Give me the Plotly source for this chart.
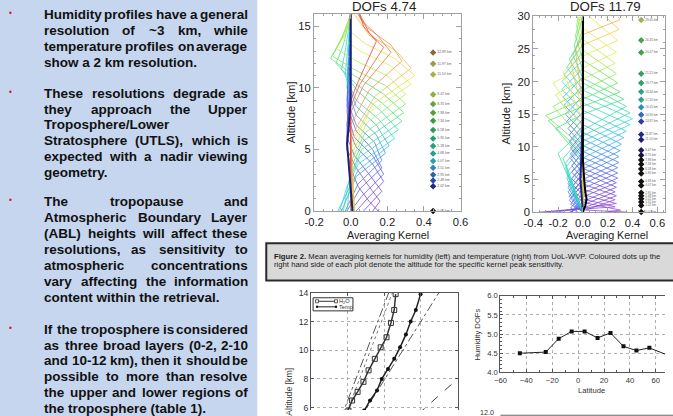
import plotly.graph_objects as go
from plotly.colors import sample_colorscale

# ======================= DATA =======================
HUM_TITLE = "DOFs 4.74"
TEMP_TITLE = "DOFs 11.79"

# humidity averaging kernels (one polyline per kernel: altitude [km], kernel value)
HUM_PEAKS = [0.0, 0.8, 1.6, 2.4, 3.0, 3.5, 4.1, 4.7, 5.3, 5.9, 6.6, 7.3, 8.0, 8.7,
             9.5, 10.3, 11.0, 11.6, 12.2, 12.9, 13.3, 13.8]
HUM_K_ALT = [
    [0, 0.8, 2, 3.5, 5, 6.5, 10, 16],
    [0, 0.8, 2, 3.5, 5, 7, 10, 16],
    [0, 1.6, 3, 4.5, 6, 8, 16],
    [0, 1, 2.4, 3.8, 5.2, 7, 9, 16],
    [0, 1.2, 3.0, 4.5, 6, 8, 16],
    [0, 1.8, 3.5, 5, 6.5, 8.5, 16],
    [0, 2.2, 4.1, 5.6, 7, 9, 16],
    [0, 2.8, 4.7, 6.2, 7.8, 10, 16],
    [0, 1.5, 3.3, 5.3, 7, 8.5, 10.5, 16],
    [0, 2, 3.8, 5.9, 7.5, 9, 11, 16],
    [0, 2.5, 4.4, 6.6, 8.2, 9.7, 11.5, 13, 16],
    [0, 3, 5, 7.3, 8.8, 10.3, 12, 13.5, 16],
    [0, 3.5, 5.7, 8.0, 9.5, 11, 12.4, 14, 16],
    [0, 4, 6.4, 8.7, 10.2, 11.5, 12.6, 14.5, 16],
    [0, 4.5, 7.2, 9.5, 11, 12.2, 13.2, 15, 16],
    [0, 5, 8, 10.3, 11.8, 13, 14, 16],
    [0, 5.5, 8.7, 11.0, 12.4, 13.6, 14.8, 16],
    [0, 6, 9.3, 11.6, 13, 14.3, 16],
    [0, 7, 9.8, 12.2, 13.5, 15, 16],
    [0, 8, 10.2, 12.9, 14.2, 15.5, 16],
    [0, 8.5, 10.3, 13.3, 14.5, 16],
    [0, 9, 10.5, 13.8, 15, 16],
]
HUM_K_VAL = [
    [0.15, 0.10, 0.04, 0.0, -0.02, -0.01, 0.0, 0.0],
    [0.12, 0.16, 0.10, 0.03, -0.02, -0.02, 0.0, 0.0],
    [0.07, 0.17, 0.10, 0.02, -0.02, -0.01, 0.0],
    [0.03, 0.09, 0.18, 0.12, 0.03, -0.02, -0.01, 0.0],
    [0.0, 0.06, 0.18, 0.12, 0.02, -0.02, 0.0],
    [-0.02, 0.05, 0.17, 0.12, 0.03, -0.02, 0.0],
    [-0.03, 0.04, 0.17, 0.13, 0.03, -0.02, 0.0],
    [-0.05, 0.03, 0.19, 0.14, 0.03, -0.02, 0.0],
    [-0.07, -0.02, 0.04, 0.21, 0.14, 0.03, -0.02, 0.0],
    [-0.06, -0.02, 0.04, 0.24, 0.15, 0.03, -0.03, 0.0],
    [-0.04, -0.01, 0.05, 0.26, 0.16, 0.04, -0.05, -0.03, 0.0],
    [-0.02, 0.0, 0.06, 0.28, 0.17, 0.03, -0.08, -0.04, 0.0],
    [0.0, 0.0, 0.07, 0.29, 0.18, 0.02, -0.11, -0.05, 0.0],
    [0.01, 0.0, 0.08, 0.30, 0.19, 0.02, -0.10, -0.03, 0.0],
    [0.02, 0.0, 0.09, 0.30, 0.20, 0.03, -0.08, -0.02, 0.0],
    [0.02, 0.0, 0.10, 0.33, 0.22, 0.05, -0.04, 0.0],
    [0.02, 0.0, 0.12, 0.35, 0.24, 0.08, -0.02, 0.01],
    [0.02, 0.0, 0.13, 0.33, 0.25, 0.10, 0.02],
    [0.01, 0.0, 0.10, 0.28, 0.22, 0.08, 0.04],
    [0.0, 0.0, 0.07, 0.22, 0.15, 0.06, 0.04],
    [0.0, 0.0, 0.05, 0.18, 0.10, 0.05],
    [0.0, 0.0, 0.04, 0.14, 0.07, 0.05],
]
HUM_CENTER_ALT = [0, 2, 4, 5.5, 7, 9, 11, 13, 16]
HUM_CENTER_VAL = [0.01, 0.0, -0.01, -0.02, -0.01, 0.0, 0.0, 0.0, 0.0]

# temperature averaging kernels
TEMP_PEAKS = [0.3, 0.8, 1.3, 1.9, 2.5, 3.1, 3.8, 4.5, 5.2, 6.0, 6.8, 7.6, 8.5, 9.4, 10.4,
              11.4, 12.4, 13.4, 14.3, 15.2, 16.2, 17.3, 18.4, 19.8, 21.2, 22.8, 24.5,
              26.3, 28.0, 29.5]
TEMP_K_ALT = [
    [0, 0.3, 1.4, 2.6, 4.2, 30],
    [0, 0.8, 2.0, 3.3, 5.0, 30],
    [0, 1.3, 2.7, 4.1, 6.0, 30],
    [0, 0.3, 1.9, 3.5, 5.1, 7.0, 30],
    [0, 0.6, 2.5, 4.3, 6.1, 8.0, 30],
    [0, 1.1, 3.1, 5.1, 7.1, 9.2, 30],
    [0, 1.6, 3.8, 6.0, 8.2, 10.4, 30],
    [0, 0.1, 2.3, 4.5, 6.7, 8.9, 11.1, 30],
    [0, 0.6, 2.9, 5.2, 7.5, 9.8, 12.1, 30],
    [0, 1.2, 3.6, 6.0, 8.4, 10.8, 13.2, 30],
    [0, 1.8, 4.3, 6.8, 9.3, 11.8, 14.3, 30],
    [0, 2.4, 5.0, 7.6, 10.2, 12.8, 15.4, 30],
    [0, 3.1, 5.8, 8.5, 11.2, 13.9, 16.6, 30],
    [0, 3.8, 6.6, 9.4, 12.2, 15.0, 17.8, 30],
    [0, 4.4, 7.4, 10.4, 13.4, 16.4, 19.4, 30],
    [0, 5.2, 8.3, 11.4, 14.5, 17.6, 20.7, 30],
    [0, 6.0, 9.2, 12.4, 15.6, 18.8, 22.0, 30],
    [0, 6.8, 10.1, 13.4, 16.7, 20.0, 23.3, 30],
    [0, 7.5, 10.9, 14.3, 17.7, 21.1, 24.5, 30],
    [0, 8.2, 11.7, 15.2, 18.7, 22.2, 25.7, 30],
    [0, 9.0, 12.6, 16.2, 19.8, 23.4, 27.0, 30],
    [0, 8, 12.8, 15.0, 17.3, 20.5, 24.0, 28, 30],
    [0, 9, 14.0, 16.2, 18.4, 21.8, 25.5, 30],
    [0, 10, 14.8, 17.3, 19.8, 23.3, 27.0, 30],
    [0, 11, 16.2, 18.7, 21.2, 24.8, 28.5, 30],
    [0, 12, 18.0, 20.4, 22.8, 26.5, 30],
    [0, 13, 19.8, 22.1, 24.5, 28.2, 30],
    [0, 14, 21.5, 23.9, 26.3, 30],
    [0, 15, 23.2, 25.6, 28.0, 30],
    [0, 16, 24.8, 27.2, 29.5, 30],
]
TEMP_K_VAL = [
    [0.18, 0.30, 0.02, -0.08, 0.0, 0.0],
    [-0.35, 0.26, 0.0, -0.08, 0.0, 0.0],
    [-0.22, 0.27, 0.0, -0.08, 0.0, 0.0],
    [0.35, 0.02, 0.26, 0.0, -0.09, 0.0, 0.0],
    [-0.30, 0.0, 0.27, 0.0, -0.09, 0.0, 0.0],
    [-0.10, 0.0, 0.26, 0.0, -0.09, 0.0, 0.0],
    [-0.09, 0.0, 0.27, 0.0, -0.10, 0.0, 0.0],
    [-0.08, -0.09, 0.0, 0.27, 0.0, -0.10, 0.0, 0.0],
    [-0.04, -0.10, 0.0, 0.28, 0.0, -0.10, 0.0, 0.0],
    [0.0, -0.10, 0.0, 0.28, 0.0, -0.11, 0.0, 0.0],
    [0.0, -0.11, 0.0, 0.28, 0.0, -0.11, 0.0, 0.0],
    [0.0, -0.11, 0.0, 0.29, 0.0, -0.12, 0.0, 0.0],
    [0.0, -0.12, 0.0, 0.29, 0.0, -0.13, 0.0, 0.0],
    [0.0, -0.12, 0.0, 0.30, 0.0, -0.14, 0.0, 0.0],
    [0.0, -0.12, 0.0, 0.31, 0.0, -0.15, 0.0, 0.0],
    [0.0, -0.13, 0.0, 0.33, 0.0, -0.16, 0.0, 0.0],
    [0.0, -0.13, 0.0, 0.35, 0.0, -0.17, 0.0, 0.0],
    [0.0, -0.14, 0.0, 0.38, 0.0, -0.17, 0.0, 0.0],
    [0.0, -0.14, 0.0, 0.40, 0.0, -0.15, 0.0, 0.0],
    [0.0, -0.16, 0.0, 0.38, 0.0, -0.13, 0.0, 0.0],
    [0.0, -0.20, 0.0, 0.35, 0.0, -0.11, 0.0, 0.0],
    [0.0, 0.0, -0.22, 0.0, 0.33, 0.0, -0.08, 0.0, 0.0],
    [0.0, 0.0, -0.28, 0.0, 0.30, 0.0, -0.07, 0.0],
    [0.0, 0.0, -0.30, 0.0, 0.28, 0.0, -0.06, -0.02],
    [0.0, 0.0, -0.24, 0.0, 0.27, 0.0, -0.05, -0.04],
    [0.0, 0.0, -0.22, 0.0, 0.26, 0.0, -0.04],
    [0.0, 0.0, -0.24, 0.0, 0.27, 0.0, -0.02],
    [0.0, 0.0, -0.16, 0.0, 0.28, 0.05],
    [0.0, 0.0, -0.10, 0.0, 0.29, 0.18],
    [0.0, 0.0, -0.06, 0.0, 0.30, 0.28],
]
TEMP_CENTER_ALT = [0, 1, 2, 3, 5, 8, 12, 20, 30]
TEMP_CENTER_VAL = [0.0, 0.02, 0.03, 0.02, 0.01, 0.0, 0.0, 0.0, 0.0]
TEMP_NAVY_ALT = [0, 2, 5, 10, 15, 20, 30]
TEMP_NAVY_VAL = [0.0, -0.01, -0.02, -0.01, 0.0, 0.0, 0.0]

# coloured peak-altitude dots
HUM_DOT_ALT = [12.89, 11.97, 11.10, 9.47, 8.70, 7.98, 7.34, 6.58, 5.90, 5.28, 4.68,
               4.07, 3.51, 2.95, 2.48, 2.02, 0.00]
HUM_DOT_COLORS = ['#8a6a3a', '#9a9a48', '#a9b048', '#8fb038', '#6aa040', '#5a9a48',
                  '#3f9a4a', '#2f9a55', '#25a070', '#22a080', '#22a095', '#2aa0a8',
                  '#2f86b8', '#2a64b0', '#24509f', '#202888', '#111111']
TEMP_DOT_ALT = [29.45, 26.35, 24.47, 21.21, 19.77, 18.44, 17.20, 16.05, 14.90, 13.87,
                11.87, 11.10, 9.47, 8.70, 7.98, 7.34, 6.58, 5.90, 4.68, 4.07, 2.95,
                2.48, 2.02, 1.55, 1.02, 0.00]
TEMP_DOT_COLORS = ['#a0b060', '#50a050', '#40a050', '#35a060', '#30a070', '#30a088',
                   '#30a0a0', '#3090b8', '#2f70c0', '#2840a8', '#202a88', '#201c78',
                   '#1e1a60', '#16143e', '#111111', '#111111', '#111111', '#111111',
                   '#111111', '#111111', '#111111', '#111111', '#111111', '#111111',
                   '#111111', '#111111']

# vertical resolution panel (bottom left)
H2O_ALT = [5.1, 5.8, 6.5, 7.1, 7.8, 8.6, 9.4, 10.2, 10.9, 11.9, 12.8, 13.9]
H2O_RES = [0.90, 1.02, 1.12, 1.27, 1.43, 1.57, 1.74, 1.90, 2.06, 2.18, 2.27, 2.31]
TMP_ALT = [5.1, 5.8, 6.5, 7.2, 8.0, 8.7, 9.4, 10.2, 11.1, 12.0, 12.8, 13.9]
TMP_RES = [1.30, 1.45, 1.61, 1.80, 1.93, 2.10, 2.27, 2.43, 2.59, 2.72, 2.86, 2.99]
REF_A_X = [0.82, 2.12]
REF_A_Y = [5.3, 14.0]
REF_A2_X = [0.92, 2.22]
REF_A2_Y = [5.3, 14.0]
REF_B_X = [1.35, 3.49]
REF_B_Y = [5.3, 14.0]
REF_C_X = [2.55, 4.0]
REF_C_Y = [4.7, 8.0]

# humidity DOFs vs latitude (bottom right)
LATITUDE = [-45, -25, -15, -5, 5, 15, 25, 35, 45, 55, 75]
HUM_DOFS = [4.50, 4.53, 4.88, 5.07, 5.07, 4.90, 5.03, 4.68, 4.57, 4.64, 4.37]

# poster text
PARAGRAPHS = [
    ["Humidity profiles have a general",
     "resolution of ~3 km, while",
     "temperature profiles on average",
     "show a 2 km resolution."],
    ["These resolutions degrade as",
     "they approach the Upper",
     "Troposphere/Lower",
     "Stratosphere (UTLS), which is",
     "expected with a nadir viewing",
     "geometry."],
    ["The tropopause and",
     "Atmospheric Boundary Layer",
     "(ABL) heights will affect these",
     "resolutions, as sensitivity to",
     "atmospheric concentrations",
     "vary affecting the information",
     "content within the retrieval."],
    ["If the troposphere is considered",
     "as three broad layers (0-2, 2-10",
     "and 10-12 km), then it should be",
     "possible to more than resolve",
     "the upper and lower regions of",
     "the troposphere (table 1)."],
]
CAPTION_1 = ("<b>Figure 2.</b> Mean averaging kernels for humidity (left) and temperature "
             "(right) from UoL-WVP. Coloured dots up the")
CAPTION_2 = ("right hand side of each plot denote the altitude for the specific kernel "
             "peak sensitivity.")

# ======================= LAYOUT HELPERS =======================
W, H = 673, 416
FONT = "Liberation Sans, Arial, sans-serif"
# the page is shown with an 8 px body margin and then fitted to the window;
# positions below are given in window pixels and converted to paper units
MARG = 8
SX = (W + 2 * MARG) / W
SY = (H + 2 * MARG) / H
XMIN_VIS, XMAX_VIS = MARG / SX, (W + MARG) / SX
YMIN_VIS, YMAX_VIS = MARG / SY, (H + MARG) / SY


def px(x):
    return (x * SX - MARG) / W


def py(y):
    return 1 - (y * SY - MARG) / H


def fs(s):
    return s * SX


def cal_axis(v0, p0, v1, p1, pa, pb, horizontal):
    lo, hi = (XMIN_VIS, XMAX_VIS) if horizontal else (YMIN_VIS, YMAX_VIS)
    pa = min(max(pa, lo), hi)
    pb = min(max(pb, lo), hi)

    def val(p):
        return v0 + (p - p0) * (v1 - v0) / (p1 - p0)

    if horizontal:
        dom = [px(pa), px(pb)]
    else:
        dom = [py(pa), py(pb)]
    return dict(domain=dom, range=[val(pa), val(pb)])


HUM_CS = [[0.0, '#8a3cc8'], [0.18, '#6048e0'], [0.28, '#4070f0'], [0.36, '#30a8f0'],
          [0.42, '#30d0e0'], [0.5, '#30e0a0'], [0.58, '#50e060'], [0.66, '#a0f040'],
          [0.76, '#f0f040'], [0.86, '#f0a040'], [1.0, '#e83030']]
TEMP_CS = [[0.0, '#9a40c8'], [0.12, '#6a48e0'], [0.25, '#4070f0'], [0.35, '#30a8f0'],
           [0.45, '#30d8d8'], [0.55, '#30e090'], [0.65, '#60e050'], [0.75, '#b0f040'],
           [0.85, '#f0f040'], [0.95, '#f0c040'], [1.0, '#f0a040']]

fig = go.Figure()

# ---- humidity kernels
for p, a, v in zip(HUM_PEAKS, HUM_K_ALT, HUM_K_VAL):
    c = sample_colorscale(HUM_CS, [min(p / 14.0, 1.0)])[0]
    fig.add_trace(go.Scatter(x=v, y=a, mode='lines', line=dict(color=c, width=1),
                             opacity=0.75, xaxis='x', yaxis='y', showlegend=False,
                             hoverinfo='skip'))
fig.add_trace(go.Scatter(x=HUM_CENTER_VAL, y=HUM_CENTER_ALT, mode='lines',
                         line=dict(color='#18207a', width=2), xaxis='x', yaxis='y',
                         showlegend=False, hoverinfo='skip'))
fig.add_trace(go.Scatter(x=[0.45] * len(HUM_DOT_ALT), y=HUM_DOT_ALT, mode='markers+text',
                         marker=dict(symbol='diamond', size=5, color=HUM_DOT_COLORS),
                         text=[f"{a:.2f} km" for a in HUM_DOT_ALT],
                         textposition='middle right',
                         textfont=dict(size=3.5, color='#666', family=FONT),
                         xaxis='x', yaxis='y', showlegend=False, hoverinfo='skip',
                         cliponaxis=False))

# ---- temperature kernels
for p, a, v in zip(TEMP_PEAKS, TEMP_K_ALT, TEMP_K_VAL):
    c = sample_colorscale(TEMP_CS, [min(p / 30.0, 1.0)])[0]
    fig.add_trace(go.Scatter(x=v, y=a, mode='lines', line=dict(color=c, width=1),
                             opacity=0.75, xaxis='x2', yaxis='y2', showlegend=False,
                             hoverinfo='skip'))
fig.add_trace(go.Scatter(x=TEMP_NAVY_VAL, y=TEMP_NAVY_ALT, mode='lines',
                         line=dict(color='#1a2a80', width=2), xaxis='x2', yaxis='y2',
                         showlegend=False, hoverinfo='skip'))
fig.add_trace(go.Scatter(x=TEMP_CENTER_VAL, y=TEMP_CENTER_ALT, mode='lines',
                         line=dict(color='#000000', width=2), xaxis='x2', yaxis='y2',
                         showlegend=False, hoverinfo='skip'))
fig.add_trace(go.Scatter(x=[0.47] * len(TEMP_DOT_ALT), y=TEMP_DOT_ALT, mode='markers+text',
                         marker=dict(symbol='diamond', size=5, color=TEMP_DOT_COLORS),
                         text=[f"{a:.2f} km" for a in TEMP_DOT_ALT],
                         textposition='middle right',
                         textfont=dict(size=3, color='#666', family=FONT),
                         xaxis='x2', yaxis='y2', showlegend=False, hoverinfo='skip',
                         cliponaxis=False))

# ---- vertical resolution panel
for xs, ys, dash, col in [(REF_A_X, REF_A_Y, 'dashdot', '#555'),
                          (REF_A2_X, REF_A2_Y, 'dot', '#777'),
                          (REF_B_X, REF_B_Y, 'dashdot', '#555'),
                          (REF_C_X, REF_C_Y, 'dash', '#444')]:
    fig.add_trace(go.Scatter(x=xs, y=ys, mode='lines', line=dict(color=col, width=1, dash=dash),
                             xaxis='x3', yaxis='y3', showlegend=False, hoverinfo='skip'))
fig.add_trace(go.Scatter(x=H2O_RES, y=H2O_ALT, mode='lines+markers',
                         line=dict(color='#333', width=1.5),
                         marker=dict(symbol='square-open', size=5, color='#333',
                                     line=dict(width=1)),
                         xaxis='x3', yaxis='y3', showlegend=False, hoverinfo='skip'))
fig.add_trace(go.Scatter(x=TMP_RES, y=TMP_ALT, mode='lines+markers',
                         line=dict(color='#222', width=1.5),
                         marker=dict(symbol='circle', size=4, color='#111'),
                         xaxis='x3', yaxis='y3', showlegend=False, hoverinfo='skip'))

# ---- DOFs vs latitude
fig.add_trace(go.Scatter(x=LATITUDE, y=HUM_DOFS, mode='lines+markers',
                         line=dict(color='#222', width=1),
                         marker=dict(symbol='square', size=4, color='#111'),
                         xaxis='x4', yaxis='y4', showlegend=False, hoverinfo='skip'))

# ======================= AXES =======================
KCOL = '#a0a0a0'


def kernel_axis(cal, tickvals, ticktext):
    d = dict(tickvals=tickvals, ticktext=ticktext,
             showline=True, linecolor=KCOL, linewidth=1, mirror='allticks',
             ticks='inside', ticklen=5, tickcolor=KCOL, showgrid=False,
             zeroline=False, tickfont=dict(size=fs(11), color='#222', family=FONT),
             minor=dict(ticks='inside', ticklen=2, tickcolor=KCOL, nticks=5))
    d.update(cal)
    return d


def small_axis(cal, **kw):
    d = dict(showline=True, linecolor='#555', linewidth=1, ticks='inside', ticklen=3,
             tickcolor='#555', showgrid=True, gridcolor='#b0b0b0', griddash='dot',
             zeroline=False)
    d.update(cal)
    d.update(kw)
    return d


layout = dict(
    width=W, height=H, margin=dict(l=0, r=0, t=0, b=0),
    paper_bgcolor='white', plot_bgcolor='white', showlegend=False,
    font=dict(family=FONT),
    xaxis=kernel_axis(cal_axis(-0.2, 313, 0.6, 460, 313, 460, True),
                      [-0.2, 0, 0.2, 0.4, 0.6], ['-0.2', '0.0', '0.2', '0.4', '0.6']),
    yaxis=kernel_axis(cal_axis(0, 211, 16, 15.8, 211, 15.8, False),
                      [0, 5, 10, 15], ['0', '5', '10', '15']),
    xaxis2=kernel_axis(cal_axis(-0.4, 533, 0.6, 657.5, 533, 670, True),
                       [-0.4, -0.2, 0, 0.2, 0.4, 0.6],
                       ['-0.4', '-0.2', '0.0', '0.2', '0.4', '0.6']),
    yaxis2=kernel_axis(cal_axis(0, 212, 30, 18, 212, 18, False),
                       [0, 5, 10, 15, 20, 25, 30],
                       ['0', '5', '10', '15', '20', '25', '30']),
    xaxis3=small_axis(cal_axis(0, 310, 4, 457, 310, 457, True), anchor='y3', side='top',
                      tickvals=[1, 2, 3], showticklabels=False),
    yaxis3=small_axis(cal_axis(14, 292, 6, 406, 416, 292, False), anchor='x3',
                      tickvals=[6, 8, 10, 12, 14], mirror='ticks',
                      tickfont=dict(size=fs(8.5), color='#333', family=FONT)),
    xaxis4=small_axis(cal_axis(-60, 500, 60, 656, 500, 673, True), anchor='y4',
                      tickvals=[-60, -40, -20, 0, 20, 40, 60], mirror='ticks',
                      tickfont=dict(size=fs(7.5), color='#333', family=FONT),
                      minor=dict(ticks='inside', ticklen=2, tickcolor='#555', nticks=4)),
    yaxis4=small_axis(cal_axis(4, 371, 6, 295, 371, 295, False), anchor='x4',
                      tickvals=[4.0, 4.5, 5.0, 5.5, 6.0],
                      ticktext=['4.0', '4.5', '5.0', '5.5', '6.0'],
                      tickfont=dict(size=fs(7.5), color='#333', family=FONT),
                      minor=dict(ticks='inside', ticklen=2, tickcolor='#555', nticks=5)),
)
layout['xaxis']['anchor'] = 'y'
layout['yaxis']['anchor'] = 'x'
layout['xaxis2']['anchor'] = 'y2'
layout['yaxis2']['anchor'] = 'x2'
fig.update_layout(**layout)

# ======================= SHAPES =======================
shapes = [
    # left text panel
    dict(type='rect', xref='paper', yref='paper', x0=px(-20), x1=px(256), y0=-0.1, y1=1.1,
         fillcolor='#c6d6ee', line=dict(width=0), layer='below'),
    # caption box
    dict(type='rect', xref='paper', yref='paper', x0=px(265), x1=px(700),
         y0=py(280), y1=py(243), fillcolor='#d9d9d9', line=dict(color='#2a2a2a', width=2),
         layer='above'),
    # top frame of the panel below the latitude plot
    dict(type='line', xref='paper', yref='paper', x0=px(500), x1=px(690), y0=py(413.5),
         y1=py(413.5), line=dict(color='#666', width=1)),
    # legend box (bottom-left plot)
    dict(type='rect', xref='paper', yref='paper', x0=px(312), x1=px(352), y0=py(310),
         y1=py(297), fillcolor='white', line=dict(color='#333', width=1)),
    dict(type='line', xref='paper', yref='paper', x0=px(315), x1=px(336), y0=py(300.5),
         y1=py(300.5), line=dict(color='#333', width=1)),
    dict(type='line', xref='paper', yref='paper', x0=px(315), x1=px(336), y0=py(306),
         y1=py(306), line=dict(color='#222', width=1)),
]
for xx in (316, 335):
    shapes.append(dict(type='rect', xref='paper', yref='paper', x0=px(xx - 1.5),
                       x1=px(xx + 1.5), y0=py(302), y1=py(299), fillcolor='white',
                       line=dict(color='#333', width=0.8)))
    shapes.append(dict(type='circle', xref='paper', yref='paper', x0=px(xx - 1.2),
                       x1=px(xx + 1.2), y0=py(307.2), y1=py(304.8), fillcolor='#111',
                       line=dict(width=0)))
fig.update_layout(shapes=shapes)

# ======================= TEXT =======================
ann = []


def add_text(text, x, y, size, xanchor='center', yanchor='middle', color='#222',
             weight='normal', angle=0):
    ann.append(dict(text=text, x=px(x), y=py(y), xref='paper', yref='paper',
                    xanchor=xanchor, yanchor=yanchor, showarrow=False,
                    textangle=angle, borderpad=0, borderwidth=0,
                    font=dict(size=fs(size), color=color, family=FONT, weight=weight)))


# Arial Bold advance widths (per 1000 em)
AB = {' ': 278, '.': 278, ',': 278, '-': 333, '(': 333, ')': 333, '/': 278, '~': 584}
AB.update({c: 556 for c in '0123456789'})
AB.update(dict(zip('abcdefghijklmnopqrstuvwxyz',
                   [556, 611, 556, 611, 556, 333, 611, 611, 278, 278, 556, 278, 889, 611,
                    611, 611, 611, 389, 556, 333, 611, 556, 778, 556, 556, 500])))
AB.update(dict(zip('ABCDEFGHIJKLMNOPQRSTUVWXYZ',
                   [722, 722, 722, 722, 667, 611, 778, 722, 278, 556, 722, 611, 833, 722,
                    778, 667, 778, 722, 667, 611, 722, 667, 944, 667, 667, 611])))


def tw(s, size):
    return sum(AB.get(ch, 556) for ch in s) * size / 1000.0


TFS = 13.2
TX0, TX1 = 42, 247
PITCH = 15.85
PARA_Y = [16, 94, 202, 328]

for para, y0 in zip(PARAGRAPHS, PARA_Y):
    add_text('•', 8, y0 - 1, 8, color='#e01010')
    for i, line in enumerate(para):
        y = y0 + i * PITCH
        words = line.split(' ')
        last = (i == len(para) - 1)
        if last or len(words) == 1:
            add_text(line, TX0, y, TFS, xanchor='left', color='#111', weight='bold')
            continue
        widths = [tw(w, TFS) for w in words]
        gap = (TX1 - TX0 - sum(widths)) / (len(words) - 1)
        x = TX0
        for j, (w, wd) in enumerate(zip(words, widths)):
            if j == len(words) - 1:
                add_text(w, TX1, y, TFS, xanchor='right', color='#111', weight='bold')
            else:
                add_text(w, x, y, TFS, xanchor='left', color='#111', weight='bold')
            x += wd + gap

# plot titles / axis titles
add_text(HUM_TITLE, 383, 8, 13)
add_text(TEMP_TITLE, 605, 8, 13)
add_text('Averaging Kernel', 387, 234.5, 10.5)
add_text('Averaging Kernel', 607, 234.5, 10.5)
add_text('Altitude [km]', 290, 113, 11, angle=-90)
add_text('Altitude [km]', 506, 114, 11, angle=-90)
add_text('Altitude [km]', 287, 390, 8.5, angle=-90, color='#333')
add_text('Humidity DOFs', 477, 333, 7.5, angle=-90, color='#333')
add_text('Latitude', 591, 389, 7.5, color='#333')
add_text('12.0', 487, 411.5, 7, color='#333')
add_text('H<sub>2</sub>O', 338, 300.5, 5.5, xanchor='left', color='#333')
add_text('Temp', 338, 306, 5.5, xanchor='left', color='#333')

# caption
add_text(CAPTION_1, 273, 256, 7.55, xanchor='left', color='#222')
add_text(CAPTION_2, 273, 264.5, 7.55, xanchor='left', color='#222')

fig.update_layout(annotations=ann)
fig.write_html("out.html")
